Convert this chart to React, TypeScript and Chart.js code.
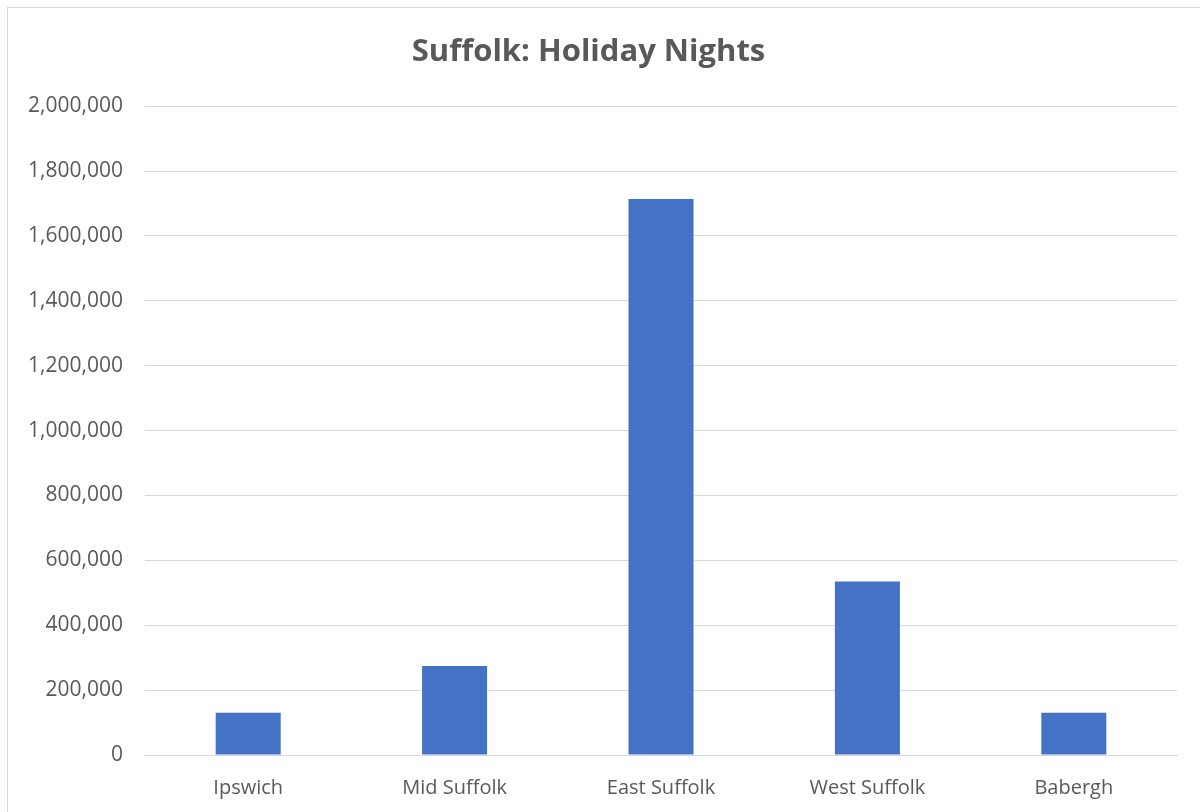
import React, { useEffect, useRef } from "react";
import { Chart, registerables } from "chart.js";

Chart.register(...registerables);

const categories = ["Ipswich", "Mid Suffolk", "East Suffolk", "West Suffolk", "Babergh"];
const holidayNights = [130000, 274000, 1714000, 535000, 130000];
const chartTitle = "Suffolk: Holiday Nights";
const yMin = 0;
const yMax = 2000000;
const yStep = 200000;

export default function App() {
  const ref = useRef<HTMLCanvasElement | null>(null);

  useEffect(() => {
    if (!ref.current) return;
    const chart = new Chart(ref.current, {
      type: "bar",
      data: {
        labels: categories,
        datasets: [
          {
            data: holidayNights,
            backgroundColor: "#4472C4",
            categoryPercentage: 1,
            barPercentage: 0.315,
          },
        ],
      },
      options: {
        responsive: false,
        animation: false,
        layout: { padding: { left: 0, right: 23, top: 0, bottom: 0 } },
        plugins: {
          legend: { display: false },
          tooltip: { enabled: false },
          title: {
            display: true,
            text: chartTitle,
            color: "#595959",
            font: { family: "'Open Sans'", size: 31, weight: "bold" },
            padding: { top: 34, bottom: 35 },
          },
        },
        scales: {
          x: {
            grid: { display: false },
            border: { color: "#d9d9d9" },
            ticks: {
              color: "#595959",
              font: { family: "'Open Sans'", size: 20 },
              padding: 13,
            },
            afterFit: (s: any) => {
              s.height = 57;
            },
          },
          y: {
            min: yMin,
            max: yMax,
            grid: { color: "#d9d9d9", drawTicks: false },
            border: { display: false },
            ticks: {
              stepSize: yStep,
              color: "#595959",
              font: { family: "'Open Sans'", size: 21 },
              padding: 22,
              callback: (v: any) => Number(v).toLocaleString("en-US"),
            },
            afterFit: (s: any) => {
              s.width = 145;
            },
          },
        },
      },
    });
    return () => chart.destroy();
  }, []);

  return (
    <div style={{ position: "fixed", left: 0, top: 0, width: 1200, height: 812, overflow: "hidden", background: "#fff" }}>
      <div
        style={{
          position: "absolute",
          left: 7,
          top: 7,
          width: 1210,
          height: 820,
          border: "1px solid #d9d9d9",
        }}
      />
      <canvas ref={ref} width={1200} height={812} style={{ position: "absolute", left: 0, top: 0 }} />
    </div>
  );
}
